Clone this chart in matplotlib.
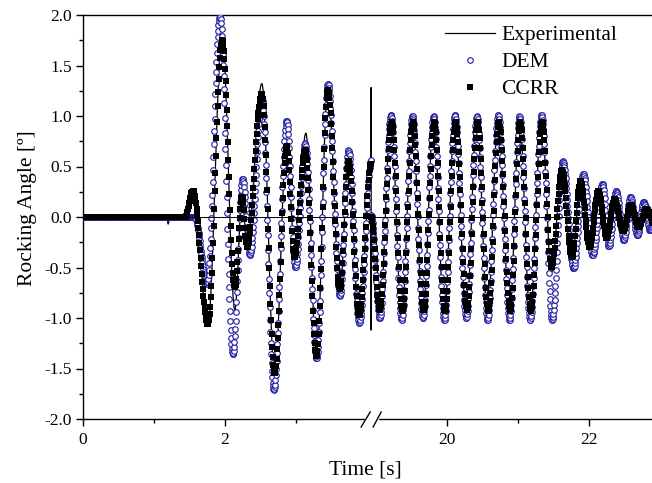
import numpy as np
import matplotlib
matplotlib.use('Agg')
import matplotlib.pyplot as plt
from matplotlib.ticker import FixedLocator, MultipleLocator, FormatStrFormatter
from matplotlib.transforms import blended_transform_factory

plt.rcParams['font.family'] = ['Liberation Serif', 'DejaVu Serif']
plt.rcParams['axes.unicode_minus'] = False

# turning points: time [s] / rocking angle [deg]
exp_t = [0, 1.18, 1.20, 1.22, 1.44, 1.55, 1.76, 1.96, 2.14, 2.24, 2.31, 2.52, 2.70,
         2.87, 2.99, 3.14, 3.29, 3.45, 3.62, 3.74, 3.89, 4.06, 4.30, 4.60,
         18.93, 18.98, 19.05, 19.21, 19.36, 19.51, 19.66, 19.81, 19.96, 20.11, 20.27,
         20.42, 20.57, 20.72, 20.88, 21.02, 21.17, 21.33, 21.47, 21.62, 21.76, 21.88,
         22.01, 22.13, 22.25, 22.36, 22.48, 22.59, 22.70, 22.81, 22.92, 23.03]
exp_v = [0, 0, -0.07, 0, 0, 0.27, -1.05, 1.78, -0.92, 0.20, -0.30, 1.32, -1.55,
         0.72, -0.42, 0.83, -1.40, 1.28, -0.74, 0.58, -1.00, 0.50, 1.28, -1.12,
         0.0, -0.03, -0.96, 0.97, -0.97, 0.97, -0.96, 0.97, -0.97, 0.97, -0.96,
         0.97, -0.97, 0.97, -0.97, 0.97, -0.97, 0.97, -0.55, 0.50, -0.42, 0.36,
         -0.30, 0.26, -0.21, 0.18, -0.14, 0.12, -0.10, 0.08, -0.06, 0.05]

dem_t = [0, 1.57, 1.75, 1.93, 2.11, 2.25, 2.35, 2.52, 2.69, 2.87, 2.99, 3.13, 3.29,
         3.45, 3.62, 3.74, 3.89, 4.06,
         18.93, 19.05, 19.21, 19.36, 19.51, 19.66, 19.81, 19.96, 20.11, 20.27, 20.42,
         20.57, 20.72, 20.88, 21.02, 21.17, 21.33, 21.48, 21.63, 21.78, 21.92, 22.05,
         22.19, 22.28, 22.38, 22.49, 22.58, 22.68, 22.77, 22.86, 22.95, 23.04]
dem_v = [0, 0, -0.66, 1.99, -1.36, 0.38, -0.38, 1.17, -1.71, 0.95, -0.50, 0.73, -1.40,
         1.32, -0.78, 0.66, -1.05, 0.56,
         0.02, -1.00, 1.01, -1.02, 1.00, -1.00, 1.00, -1.02, 1.01, -1.00, 1.00,
         -1.02, 1.01, -1.02, 1.00, -1.02, 1.01, -1.02, 0.55, -0.51, 0.43, -0.38,
         0.33, -0.29, 0.26, -0.23, 0.20, -0.18, 0.15, -0.13, 0.12, -0.10]

ccrr_t = [0, 1.44, 1.55, 1.76, 1.96, 2.14, 2.24, 2.31, 2.52, 2.70, 2.87, 2.98, 3.13,
          3.29, 3.45, 3.62, 3.74, 3.89, 4.06,
          18.93, 19.05, 19.22, 19.37, 19.52, 19.67, 19.82, 19.97, 20.12, 20.28, 20.43,
          20.58, 20.73, 20.89, 21.03, 21.18, 21.34, 21.47, 21.62, 21.76, 21.88, 22.01,
          22.13, 22.25, 22.36, 22.48, 22.59, 22.70, 22.81, 22.92, 23.03]
ccrr_v = [0, 0, 0.26, -1.06, 1.75, -0.70, 0.20, -0.30, 1.22, -1.55, 0.70, -0.40, 0.66,
          -1.38, 1.26, -0.72, 0.56, -0.97, 0.53,
          0.0, -0.92, 0.94, -0.93, 0.94, -0.92, 0.94, -0.93, 0.94, -0.92, 0.94,
          -0.93, 0.94, -0.93, 0.94, -0.93, 0.94, -0.50, 0.47, -0.40, 0.36, -0.30,
          0.26, -0.21, 0.18, -0.14, 0.12, -0.10, 0.08, -0.06, 0.05]

x_major = [0, 2, 20, 22]
x_minor = [1, 3, 21]

L, R = 4.06, 18.93      # broken time axis: left part ends at L, right part starts at R
G = R - L


def fwd(t):
    t = np.asarray(t, dtype=float)
    return np.where(t <= L, t, np.where(t >= R, t - G, L))


def inv(x):
    x = np.asarray(x, dtype=float)
    return np.where(x <= L, x, x + G)


def swing(tk, vk, t):
    # half-cosine swing from one turning point to the next
    tk = np.asarray(tk, dtype=float)
    vk = np.asarray(vk, dtype=float)
    i = np.clip(np.searchsorted(tk, t, side='right') - 1, 0, len(tk) - 2)
    s = np.clip((t - tk[i]) / (tk[i + 1] - tk[i]), 0, 1)
    return vk[i] + (vk[i + 1] - vk[i]) * (1 - np.cos(np.pi * s)) / 2


t_exp = np.union1d(np.arange(0, 23.05, 0.004), exp_t)
t_dem = np.concatenate([np.arange(0, L + 1e-9, 0.0055), np.arange(R, 23.05, 0.0055)])
t_ccrr = np.concatenate([np.arange(0, L + 1e-9, 0.008), np.arange(R, 23.05, 0.008)])

fig = plt.figure(figsize=(6.52, 4.83), dpi=100)
ax = fig.add_axes([83 / 652, 1 - 419 / 483, 577 / 652, 404 / 483])
ax.set_xscale('function', functions=(fwd, inv))

ax.plot(t_exp, swing(exp_t, exp_v, t_exp), color='black', lw=0.9,
        label='Experimental', zorder=2)
ax.plot(t_dem, swing(dem_t, dem_v, t_dem), ls='none', marker='o', ms=4.0,
        mfc='white', mec='#1c1ca0', mew=0.8, label='DEM', zorder=3)
ax.plot(t_ccrr, swing(ccrr_t, ccrr_v, t_ccrr), ls='none', marker='s', ms=4.3,
        mfc='black', mec='black', mew=0, label='CCRR', zorder=4)
ax.axhline(0, color='black', lw=0.7, zorder=5)

ax.set_xlim(0, 23.0)
ax.set_ylim(-2, 2)
ax.xaxis.set_major_locator(FixedLocator(x_major))
ax.xaxis.set_minor_locator(FixedLocator(x_minor))
ax.xaxis.set_major_formatter(FormatStrFormatter('%d'))
ax.yaxis.set_major_locator(MultipleLocator(0.5))
ax.yaxis.set_minor_locator(MultipleLocator(0.25))
ax.yaxis.set_major_formatter(FormatStrFormatter('%.1f'))
ax.tick_params(which='major', direction='out', length=5, width=1, labelsize=12.5)
ax.tick_params(axis='x', which='major', pad=4)
ax.tick_params(axis='y', which='major', pad=3)
ax.tick_params(which='minor', direction='out', length=3, width=1)
for s in ax.spines.values():
    s.set_linewidth(1.0)
ax.spines['right'].set_visible(False)

ax.set_xlabel('Time [s]', fontsize=15.5)
ax.xaxis.set_label_coords(0.49, -0.102)
ax.set_ylabel('Rocking Angle [º]', fontsize=15.5)
ax.yaxis.set_label_coords(-0.080, 0.522)

# break marks on the time axis
trans = blended_transform_factory(ax.transData, ax.transAxes)
px = 1 / 71
ax.plot([L - 5 * px, R + 6 * px], [0, 0], color='white', lw=2.5,
        transform=trans, clip_on=False, zorder=6)
ax.plot([L - 10 * px, L - 1 * px], [-8 / 404, 7 / 404], color='black', lw=1,
        transform=trans, clip_on=False, zorder=7)
ax.plot([R + 2 * px, R + 10 * px], [-8 / 404, 7 / 404], color='black', lw=1,
        transform=trans, clip_on=False, zorder=7)

ax.legend(loc='upper left', bbox_to_anchor=(445 / 652, 1 - 25 / 483),
          bbox_transform=fig.transFigure, frameon=False, fontsize=15.5,
          handlelength=2.3, handletextpad=0.3, labelspacing=0.33,
          borderpad=0, borderaxespad=0, numpoints=1)

fig.savefig('out.png', dpi=100)
